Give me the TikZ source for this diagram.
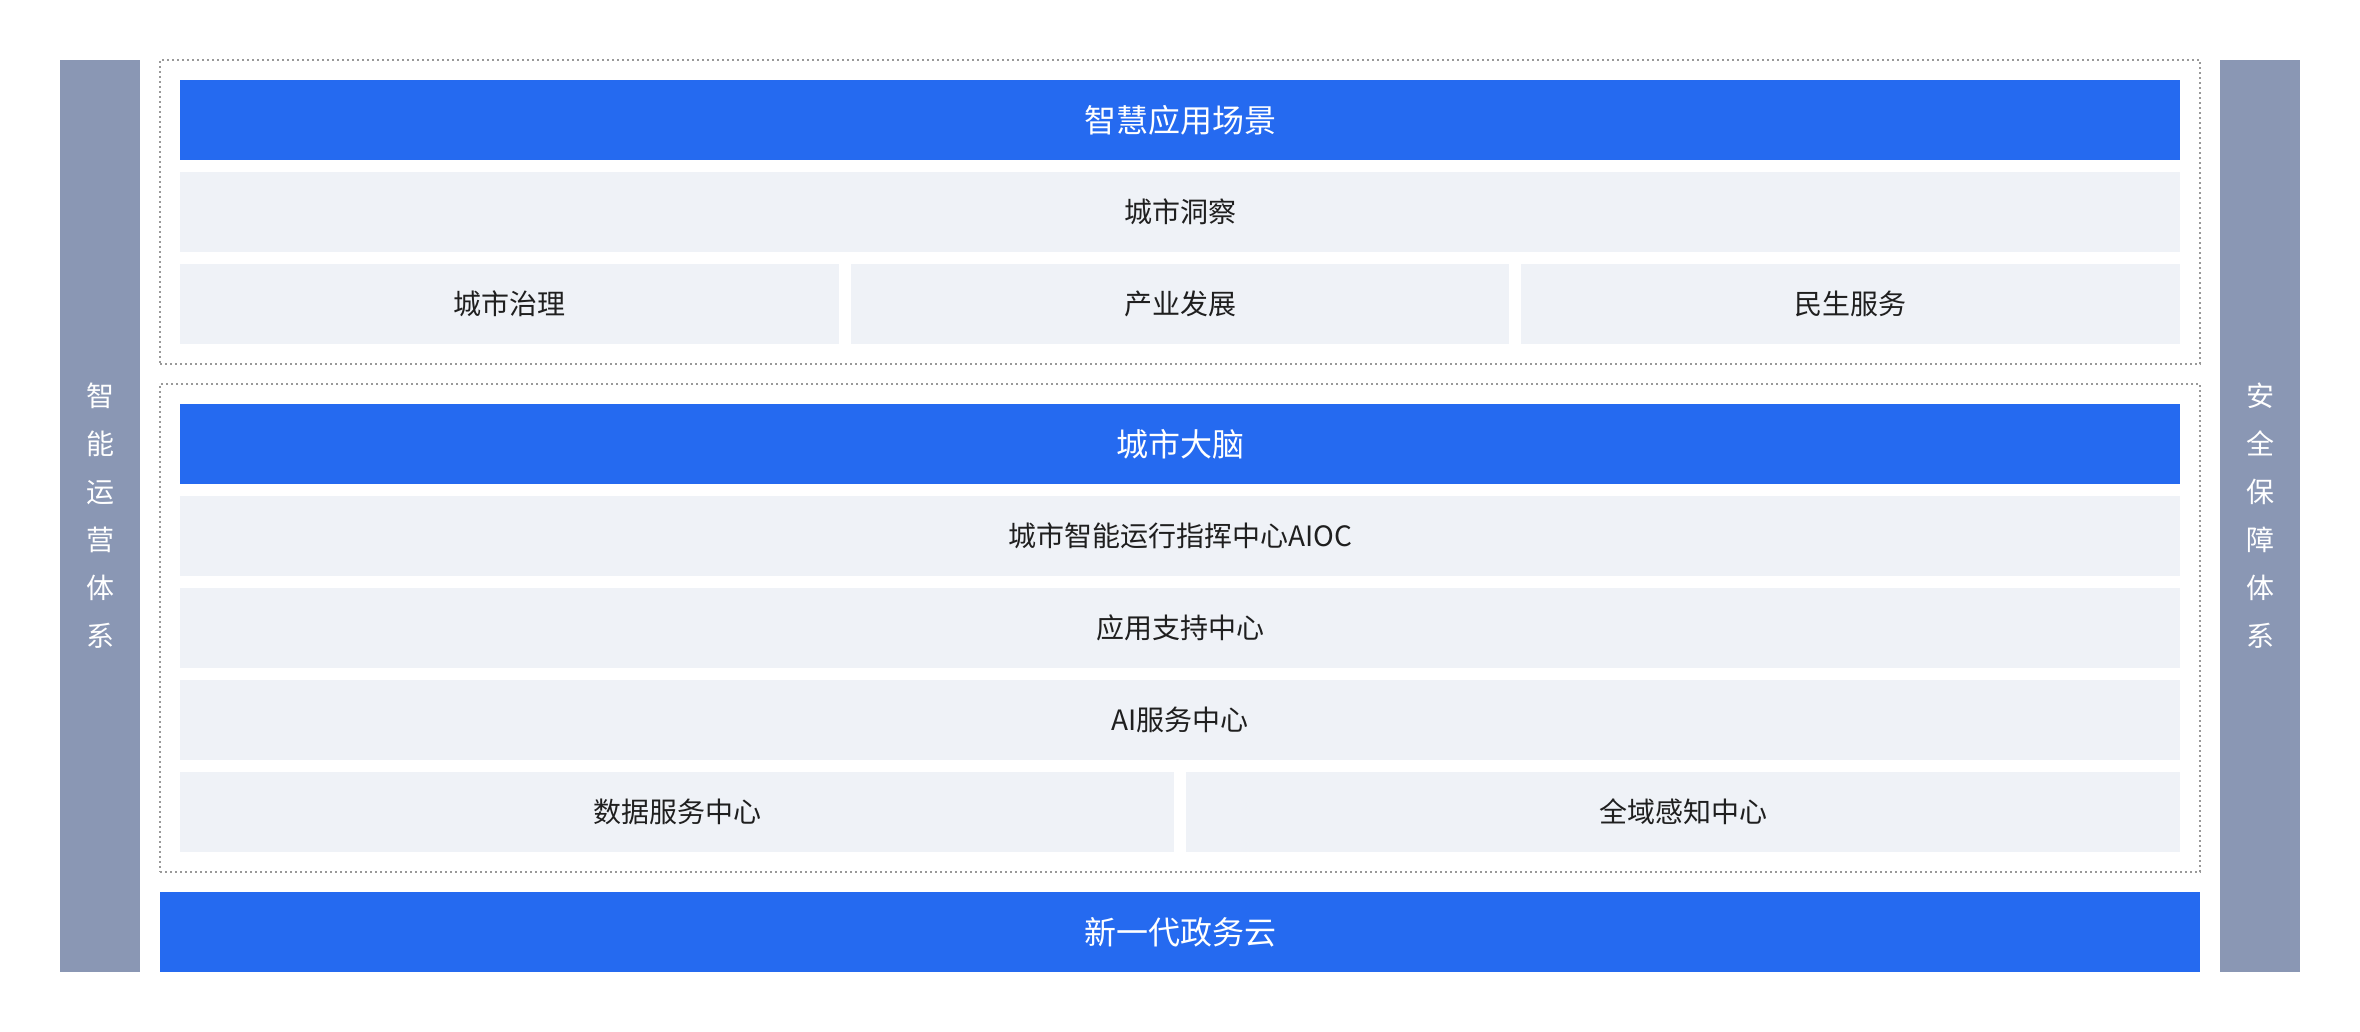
\documentclass[tikz,border=0pt]{standalone}
\usepackage{fontspec}
\setmainfont{Noto Sans CJK SC}
\usetikzlibrary{calc}
\definecolor{mainblue}{HTML}{256AF0}
\definecolor{sidegray}{HTML}{8A97B4}
\definecolor{cellgray}{HTML}{EFF2F7}
\definecolor{framegray}{HTML}{999999}
\definecolor{textdark}{HTML}{1F1F1F}
% style, name, left, top, width, height, text
\newcommand{\layerbox}[7]{\node[#1, minimum width={#5*0.5pt}, minimum height={#6*0.5pt}] (#2) at ({#3+#5/2},{#4+#6/2}) {#7};}

\begin{document}
\begin{tikzpicture}[x=0.5pt, y=-0.5pt,
  every node/.style={inner sep=0pt, outer sep=0pt},
  bluebar/.style={fill=mainblue, text=white, font=\fontsize{16}{18}\selectfont},
  cellbar/.style={fill=cellgray, text=textdark, font=\fontsize{14}{16}\selectfont},
  sidebar/.style={fill=sidegray, text=white, align=center, font=\fontsize{14}{24}\selectfont},
  frame/.style={draw=framegray, line width=0.8pt, dash pattern=on 0.8pt off 1.7pt}]
\useasboundingbox (0,0) rectangle (2360,1032);
% side columns
\layerbox{sidebar}{ops}{60}{60}{80}{912}{智\\能\\运\\营\\体\\系}
\layerbox{sidebar}{safe}{2220}{60}{80}{912}{安\\全\\保\\障\\体\\系}
% dotted frames
\layerbox{frame}{appframe}{160}{60}{2040}{304}{}
\layerbox{frame}{brainframe}{160}{384}{2040}{488}{}
% application scenes
\layerbox{bluebar}{apps}{180}{80}{2000}{80}{智慧应用场景}
\layerbox{cellbar}{insight}{180}{172}{2000}{80}{城市洞察}
\layerbox{cellbar}{govern}{180}{264}{658.67}{80}{城市治理}
\layerbox{cellbar}{industry}{850.67}{264}{658.67}{80}{产业发展}
\layerbox{cellbar}{livelihood}{1521.33}{264}{658.67}{80}{民生服务}
% city brain
\layerbox{bluebar}{brain}{180}{404}{2000}{80}{城市大脑}
\layerbox{cellbar}{aioc}{180}{496}{2000}{80}{城市智能运行指挥中心AIOC}
\layerbox{cellbar}{appsupport}{180}{588}{2000}{80}{应用支持中心}
\layerbox{cellbar}{aiservice}{180}{680}{2000}{80}{AI服务中心}
\layerbox{cellbar}{dataservice}{180}{772}{994}{80}{数据服务中心}
\layerbox{cellbar}{sensing}{1186}{772}{994}{80}{全域感知中心}
% cloud
\layerbox{bluebar}{cloud}{160}{892}{2040}{80}{新一代政务云}
\end{tikzpicture}
\end{document}
